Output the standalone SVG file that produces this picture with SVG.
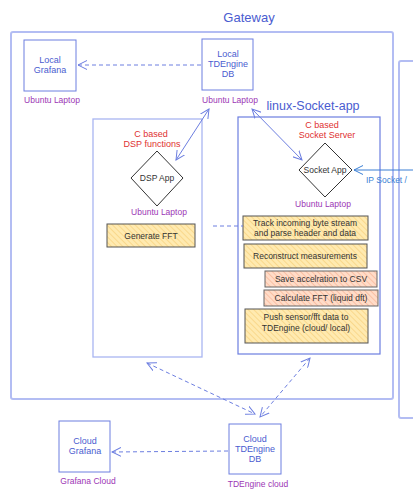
<svg xmlns="http://www.w3.org/2000/svg" width="413" height="502" viewBox="0 0 413 502">
<style>
text{font-family:"Liberation Sans",Arial,sans-serif;text-anchor:middle;}
.blue{fill:#4a5cd0;font-size:9px;}
.purple{fill:#9c36b5;font-size:8.5px;}
.red{fill:#e03131;font-size:9px;}
.dark{fill:#333;font-size:8.5px;}
.box{fill:#fff;stroke:#6c7ee0;stroke-width:1;}
.outer{fill:none;stroke:#b3bdf3;stroke-width:2;}
.inner{fill:none;stroke:#a9b5f2;stroke-width:1.3;}
.inner2{fill:none;stroke:#6c7ee0;stroke-width:1.2;}
.dia{fill:#fff;stroke:#333;stroke-width:1;}
.task{fill:url(#hy);stroke:#555;stroke-width:1;}
.task2{fill:url(#hs);stroke:#666;stroke-width:1;}
.c{fill:none;stroke:#6c7ee0;stroke-width:1;}
.d{stroke-dasharray:4 3;}
</style>
<defs>
<pattern id="hy" width="4" height="4" patternUnits="userSpaceOnUse" patternTransform="rotate(-45)">
<rect width="4" height="4" fill="#ffeab0"/>
<line x1="0" y1="0" x2="0" y2="4" stroke="#f6cd73" stroke-width="1.2"/>
</pattern>
<pattern id="hs" width="4" height="4" patternUnits="userSpaceOnUse" patternTransform="rotate(-45)">
<rect width="4" height="4" fill="#ffdcc8"/>
<line x1="0" y1="0" x2="0" y2="4" stroke="#f8ad8c" stroke-width="1.2"/>
</pattern>
<marker id="ah" viewBox="0 0 10 10" refX="9" refY="5" markerWidth="10" markerHeight="10" markerUnits="userSpaceOnUse" orient="auto-start-reverse">
<path d="M0,0.5 L9,5 L0,9.5" fill="none" stroke="#6c7ee0" stroke-width="1"/>
</marker>
<marker id="ahb" viewBox="0 0 10 10" refX="9" refY="5" markerWidth="10" markerHeight="10" markerUnits="userSpaceOnUse" orient="auto-start-reverse">
<path d="M0,0.5 L9,5 L0,9.5" fill="none" stroke="#3b7fd4" stroke-width="1"/>
</marker>
</defs>
<rect width="413" height="502" fill="#fff"/>

<g id="gateway">
<rect class="outer" x="11" y="32" width="382" height="367" rx="2"/>
<text x="249" y="22" style="fill:#4a5cd0;font-size:13px;">Gateway</text>
</g>
<g id="right-box">
<rect class="outer" x="399" y="61" width="30" height="357" rx="2"/>
</g>

<g id="local-grafana">
<rect class="box" x="24" y="40" width="52" height="51"/>
<text class="blue" x="50" y="63">Local</text>
<text class="blue" x="50" y="73">Grafana</text>
<text class="purple" x="52" y="103">Ubuntu Laptop</text>
</g>

<g id="local-tdengine">
<rect class="box" x="202" y="39" width="51" height="51"/>
<text class="blue" x="228" y="57">Local</text>
<text class="blue" x="228" y="67">TDEngine</text>
<text class="blue" x="228" y="77">DB</text>
<text class="purple" x="230" y="103">Ubuntu Laptop</text>
</g>

<g id="dsp">
<rect class="inner" x="93" y="119" width="109" height="238"/>
<text class="red" x="151" y="137">C based</text>
<text class="red" x="152" y="147">DSP functions</text>
<polygon class="dia" points="157,151 183,178 157,206 131,178"/>
<text class="dark" x="157" y="181">DSP App</text>
<text class="purple" x="159" y="215">Ubuntu Laptop</text>
</g>
<g id="generate-fft">
<rect class="task" x="107" y="224" width="88" height="23"/>
<text class="dark" x="151" y="239">Generate FFT</text>
</g>

<g id="socket-app">
<text x="313" y="110" style="fill:#4a5cd0;font-size:12.5px;">linux-Socket-app</text>
<rect class="inner2" x="238" y="117" width="142" height="237"/>
<text class="red" x="322" y="128">C based</text>
<text class="red" x="327" y="138">Socket Server</text>
<polygon class="dia" points="325,143 352,170 325,197 299,170"/>
<text class="dark" x="325" y="173">Socket App</text>
<text class="purple" x="323" y="207">Ubuntu Laptop</text>
</g>
<g id="track">
<rect class="task" x="243" y="216" width="125" height="24"/>
<text class="dark" x="305" y="226">Track incoming byte stream</text>
<text class="dark" x="305" y="236">and parse header and data</text>
</g>
<g id="reconstruct">
<rect class="task" x="244" y="244" width="123" height="24"/>
<text class="dark" x="305" y="259">Reconstruct measurements</text>
</g>
<g id="save-csv">
<rect class="task2" x="265" y="271" width="112" height="16"/>
<text class="dark" x="321" y="282">Save accelration to CSV</text>
</g>
<g id="calc-fft">
<rect class="task2" x="264" y="290" width="114" height="16"/>
<text class="dark" x="321" y="301">Calculate FFT (liquid dft)</text>
</g>
<g id="push">
<rect class="task" x="245" y="309" width="123" height="34"/>
<text class="dark" x="306" y="320">Push sensor/fft data to</text>
<text class="dark" x="306" y="331">TDEngine (cloud/ local)</text>
</g>

<g id="cloud-grafana">
<rect class="box" x="59" y="421" width="51" height="51"/>
<text class="blue" x="85" y="444">Cloud</text>
<text class="blue" x="85" y="454">Grafana</text>
<text class="purple" x="88" y="484">Grafana Cloud</text>
</g>
<g id="cloud-tdengine">
<rect class="box" x="229" y="424" width="52" height="50"/>
<text class="blue" x="255" y="442">Cloud</text>
<text class="blue" x="255" y="452">TDEngine</text>
<text class="blue" x="255" y="462">DB</text>
<text class="purple" x="258" y="487">TDEngine cloud</text>
</g>

<g id="connectors">
<line class="c d" x1="201" y1="65" x2="78" y2="65" marker-end="url(#ah)"/>
<line class="c" x1="176" y1="160" x2="209" y2="109" marker-start="url(#ah)" marker-end="url(#ah)"/>
<line class="c" x1="252" y1="109" x2="302" y2="160" marker-start="url(#ah)" marker-end="url(#ah)"/>
<line class="c d" x1="213" y1="226" x2="243" y2="226"/>
<line x1="413" y1="170" x2="354" y2="170" stroke="#3b7fd4" stroke-width="1" marker-end="url(#ahb)"/>
<text x="366" y="183" style="fill:#3b7fd4;font-size:8.5px;text-anchor:start;">IP Socket /</text>
<line class="c d" x1="147" y1="363" x2="255" y2="414" marker-start="url(#ah)" marker-end="url(#ah)"/>
<line class="c d" x1="310" y1="358" x2="260" y2="417" marker-start="url(#ah)" marker-end="url(#ah)"/>
<line class="c d" x1="228" y1="451" x2="112" y2="452" marker-end="url(#ah)"/>
</g>
</svg>
